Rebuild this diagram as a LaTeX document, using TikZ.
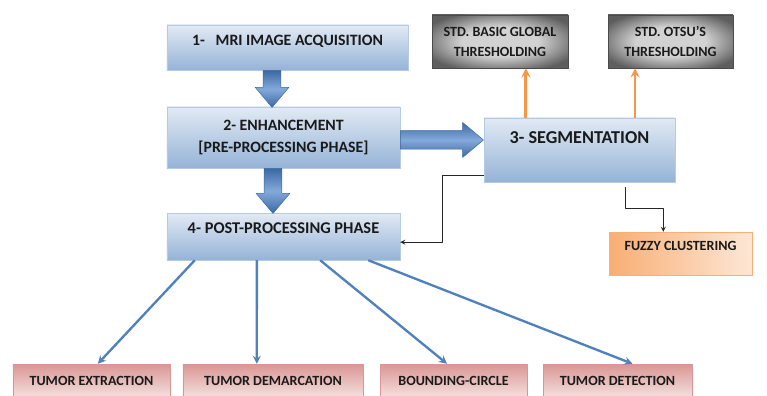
\documentclass[tikz,border=0pt]{standalone}
\usepackage{fontspec}
\setmainfont{Carlito}
\usetikzlibrary{calc,shapes.arrows,shadows}
\definecolor{bxlight}{HTML}{E2EAF4}
\definecolor{bxdark}{HTML}{95B3D7}
\definecolor{ardark}{HTML}{3B69A3}
\definecolor{arlight}{HTML}{84A9DA}
\definecolor{arline}{HTML}{4F81BD}
\definecolor{gydark}{HTML}{5E5E5E}
\definecolor{gylight}{HTML}{D2D2D2}
\definecolor{orline}{HTML}{F79646}
\definecolor{ordark}{HTML}{F8AE74}
\definecolor{orlight}{HTML}{FDE7D6}
\definecolor{pkdark}{HTML}{D99694}
\definecolor{pklight}{HTML}{F4E0DF}
\definecolor{txt}{HTML}{1A1A1A}
\pgfdeclareradialshading{grayglow}{\pgfpoint{0bp}{0bp}}{color(0bp)=(gylight); color(14bp)=(gylight); color(30bp)=(gydark); color(50bp)=(gydark)}

\begin{document}
\begin{tikzpicture}[x=0.03cm, y=-0.03cm, >=stealth, line join=round,
  font=\bfseries\fontsize{12}{17}\selectfont, text=txt,
  fsz/.style={font=\bfseries\fontsize{#1}{17}\selectfont},
  box/.style={rectangle, inner sep=2pt, align=center,
    drop shadow={shadow xshift=1.2pt, shadow yshift=-1.2pt, opacity=0.3}},
  bluebox/.style={box, draw=bxdark!70, top color=bxlight, bottom color=bxdark},
  graybox/.style={box, draw=gydark!80!black, shading=grayglow},
  orangebox/.style={box, draw=ordark, left color=ordark, right color=orlight},
  pinkbox/.style={box, draw=pkdark, top color=pkdark, bottom color=pklight},
  up/.style={text height=8pt, text depth=#1},
  fatarrow/.style={single arrow, draw=ardark, top color=ardark, bottom color=ardark,
    middle color=arlight, inner xsep=0pt, inner ysep=0.26cm,
    single arrow head extend=0.24cm, single arrow tip angle=80},
  bluearrow/.style={->, draw=arline, line width=2pt},
  orangearrow/.style={->, draw=orline, line width=2.4pt},
  blackarrow/.style={->, draw=black!85, line width=0.9pt}]
\useasboundingbox (0,0) rectangle (767,395);
\clip (0,0) rectangle (767,395);
% main chain
\node[bluebox, fsz=13.5, minimum width=7.23cm, minimum height=1.35cm, up=11pt] (acq) at (287.5,47.5) {1-\ \ \ MRI IMAGE ACQUISITION};
\node[bluebox, fsz=13.5, minimum width=6.99cm, minimum height=1.83cm] (enh) at (283.5,137.5) {2- ENHANCEMENT\\[2pt]{[PRE-PROCESSING PHASE]}};
\node[bluebox, fsz=15.5, minimum width=5.73cm, minimum height=1.92cm, up=19pt] (seg) at (579.5,150) {3- SEGMENTATION};
\node[bluebox, fsz=14, minimum width=6.99cm, minimum height=1.41cm, up=12.5pt] (post) at (283.5,236.5) {4- POST-PROCESSING PHASE};
% segmentation methods
\node[graybox, minimum width=4.08cm, minimum height=1.59cm] (glob) at (500,41.5) {STD. BASIC GLOBAL\\THRESHOLDING};
\node[graybox, minimum width=3.75cm, minimum height=1.59cm] (otsu) at (670.5,41.5) {STD. OTSU'S\\THRESHOLDING};
\node[orangebox, minimum width=4.29cm, minimum height=1.29cm, up=12.8pt] (fuzzy) at (680.5,253.5) {FUZZY CLUSTERING};
% outputs
\node[pinkbox, minimum width=4.71cm, minimum height=0.99cm] (extr) at (91.5,380.5) {TUMOR EXTRACTION};
\node[pinkbox, minimum width=5.4cm, minimum height=0.99cm] (demar) at (273,380.5) {TUMOR DEMARCATION};
\node[pinkbox, minimum width=4.41cm, minimum height=0.99cm] (bound) at (453.5,380.5) {BOUNDING-CIRCLE};
\node[pinkbox, minimum width=4.47cm, minimum height=0.99cm] (detect) at (617.5,380.5) {TUMOR DETECTION};
% fat arrows
\node[fatarrow, rotate=-90, anchor=tail, minimum height=1.11cm] (a12) at ($(acq.south west)!0.436!(acq.south east)$) {};
\node[fatarrow, rotate=-90, anchor=tail, minimum height=1.35cm] (a24) at ($(enh.south west)!0.455!(enh.south east)$) {};
\node[fatarrow, anchor=tail, minimum height=2.49cm, inner ysep=0.27cm, single arrow head extend=0.25cm] (a23) at ($(enh.north east)!0.54!(enh.south east)$) {};
% thin arrows
\draw[bluearrow] ($(post.south west)!0.12!(post.south east)$) -- ($(extr.north west)!0.54!(extr.north east)$);
\draw[bluearrow] ($(post.south west)!0.386!(post.south east)$) -- ($(demar.north west)!0.41!(demar.north east)$);
\draw[bluearrow] ($(post.south west)!0.657!(post.south east)$) -- ($(bound.north west)!0.456!(bound.north east)$);
\draw[bluearrow] ($(post.south west)!0.863!(post.south east)$) -- ($(detect.north west)!0.6!(detect.north east)$);
\coordinate (o1) at ($(seg.north west)!0.22!(seg.north east)$);
\coordinate (o2) at ($(seg.north west)!0.79!(seg.north east)$);
\draw[orangearrow] (o1) -- (o1 |- glob.south);
\draw[orangearrow] (o2) -- (o2 |- otsu.south);
\draw[blackarrow] ($(seg.north west)!0.89!(seg.south west)$) -| ($(post.north east)!0.62!(post.south east)+(42,0)$) -- ($(post.north east)!0.62!(post.south east)$);
\draw[blackarrow] ($(seg.south west)!0.74!(seg.south east)+(0,5)$) |- ($(fuzzy.north west)!0.38!(fuzzy.north east)+(0,-23)$) -- ($(fuzzy.north west)!0.38!(fuzzy.north east)$);
\end{tikzpicture}
\end{document}
